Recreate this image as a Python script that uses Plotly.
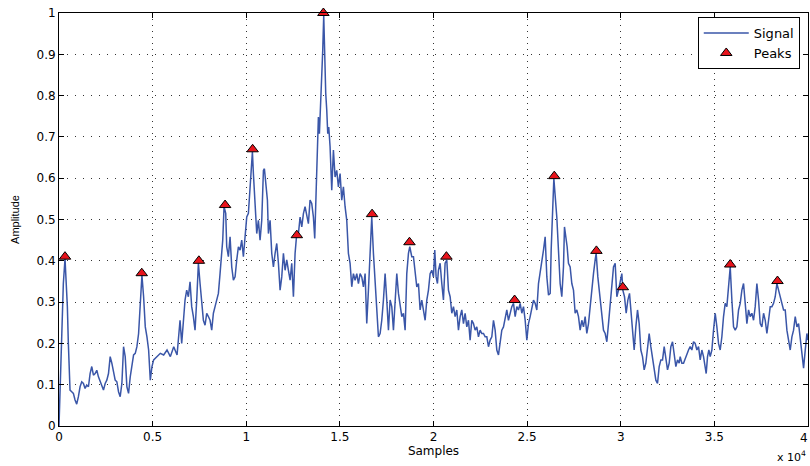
import plotly.graph_objects as go

# ---- signal trace (sample index, amplitude) ----
seg1_samples = [0, 54, 143, 232, 321, 375, 446, 500, 589, 679,
                768, 857, 946, 1036, 1125, 1214, 1304, 1393, 1482, 1572,
                1661, 1750, 1840, 1929, 2018, 2107, 2197, 2286, 2375, 2465,
                2554, 2643, 2733, 2822, 2911, 3000, 3090, 3179, 3268, 3358,
                3447, 3536, 3626, 3715, 3804, 3893, 3983, 4072, 4161, 4251,
                4340, 4429, 4518, 4608, 4697, 4786, 4876, 4965, 5054, 5233,
                5412, 5590, 5769, 5947, 6126, 6305]
seg1_values = [0.0, 0.095, 0.20, 0.345, 0.405, 0.36, 0.29, 0.20, 0.087, 0.083,
               0.079, 0.063, 0.053, 0.071, 0.095, 0.107, 0.103, 0.091, 0.099, 0.095,
               0.127, 0.144, 0.123, 0.127, 0.135, 0.119, 0.107, 0.095, 0.087, 0.103,
               0.111, 0.127, 0.168, 0.152, 0.127, 0.111, 0.107, 0.083, 0.071, 0.103,
               0.192, 0.168, 0.095, 0.079, 0.119, 0.152, 0.172, 0.176, 0.192, 0.224,
               0.289, 0.365, 0.313, 0.240, 0.216, 0.184, 0.111, 0.144, 0.160, 0.168,
               0.176, 0.172, 0.184, 0.168, 0.192, 0.172]

seg2_samples = [6464, 6553, 6642, 6731, 6820, 6909, 6998, 7087, 7176, 7265,
                7355, 7444, 7533, 7622, 7711, 7800, 7889, 7978, 8067, 8156,
                8245, 8334, 8423, 8512, 8601, 8690, 8744, 8815, 8904, 8957,
                9046, 9136, 9225, 9314, 9403, 9492, 9581, 9670, 9759, 9848,
                9937, 10026, 10115, 10204, 10257, 10329, 10382, 10471, 10560, 10649,
                10738, 10827, 10917, 10970, 11059, 11130, 11184, 11273, 11362, 11451,
                11540, 11629, 11718, 11807, 11896, 11985, 12074, 12163, 12252, 12341,
                12430, 12519, 12608, 12698, 12787, 12876, 12965, 13054]
seg2_values = [0.256, 0.20, 0.256, 0.305, 0.329, 0.313, 0.349, 0.289, 0.265, 0.232,
               0.305, 0.394, 0.345, 0.297, 0.256, 0.244, 0.273, 0.265, 0.256, 0.232,
               0.273, 0.289, 0.305, 0.321, 0.369, 0.426, 0.45, 0.531, 0.515, 0.434,
               0.41, 0.458, 0.385, 0.353, 0.361, 0.402, 0.434, 0.426, 0.45, 0.41,
               0.45, 0.506, 0.515, 0.579, 0.635, 0.664, 0.611, 0.531, 0.466, 0.498,
               0.45, 0.498, 0.619, 0.623, 0.579, 0.547, 0.466, 0.498, 0.418, 0.385,
               0.418, 0.442, 0.394, 0.329, 0.361, 0.418, 0.377, 0.402, 0.377, 0.353,
               0.394, 0.313, 0.418, 0.466, 0.466, 0.506, 0.482, 0.515]

seg3_samples = [13141, 13230, 13319, 13408, 13497, 13586, 13657, 13729, 13800, 13853,
                13907, 13978, 14032, 14085, 14138, 14192, 14245, 14299, 14352, 14406,
                14477, 14566, 14655, 14744, 14833, 14922, 15011, 15100, 15189, 15278,
                15367, 15456, 15545, 15634, 15723, 15813, 15902, 15991, 16080, 16169,
                16258, 16347, 16436, 16525, 16614, 16703, 16792, 16881, 16970, 17059,
                17148, 17237, 17326, 17415, 17504, 17594, 17683, 17772, 17861, 17950,
                18039, 18128, 18217, 18306, 18395, 18484, 18573, 18662, 18733, 18840,
                18929, 19018, 19107, 19196, 19285, 19374, 19463, 19553, 19642, 19731]
seg3_values = [0.531, 0.506, 0.49, 0.547, 0.539, 0.506, 0.454, 0.563, 0.668, 0.748,
               0.708, 0.789, 0.821, 0.91, 0.994, 0.885, 0.805, 0.765, 0.708, 0.724,
               0.676, 0.571, 0.668, 0.603, 0.619, 0.579, 0.611, 0.547, 0.579, 0.531,
               0.498, 0.418, 0.394, 0.337, 0.369, 0.353, 0.369, 0.345, 0.369, 0.361,
               0.337, 0.369, 0.248, 0.329, 0.418, 0.506, 0.418, 0.345, 0.273, 0.216,
               0.224, 0.256, 0.305, 0.369, 0.305, 0.232, 0.305, 0.289, 0.232, 0.305,
               0.369, 0.321, 0.289, 0.265, 0.273, 0.232, 0.369, 0.418, 0.434, 0.41,
               0.41, 0.377, 0.337, 0.345, 0.281, 0.305, 0.281, 0.256, 0.305, 0.329]

seg4_samples = [19819, 19908, 19997, 20068, 20140, 20211, 20264, 20353, 20442, 20531,
                20620, 20710, 20799, 20888, 20977, 21066, 21155, 21244, 21333, 21422,
                21511, 21600, 21689, 21778, 21867, 21956, 22045, 22134, 22223, 22312,
                22401, 22491, 22580, 22669, 22758, 22847, 22936, 23025, 23114, 23203,
                23292, 23381, 23470, 23559, 23648, 23737, 23826, 23915, 24004, 24093,
                24182, 24272, 24361, 24450, 24539, 24628, 24717, 24806, 24895, 24984,
                25073, 25162, 25251, 25340, 25429, 25518, 25607, 25696, 25785, 25874,
                25963, 26053, 26142, 26231, 26284, 26355, 26427]
seg4_values = [0.369, 0.377, 0.361, 0.426, 0.361, 0.345, 0.377, 0.394, 0.345, 0.305,
               0.394, 0.402, 0.329, 0.313, 0.273, 0.289, 0.265, 0.281, 0.232, 0.265,
               0.281, 0.248, 0.273, 0.24, 0.256, 0.208, 0.256, 0.248, 0.232, 0.24,
               0.216, 0.232, 0.224, 0.224, 0.216, 0.216, 0.192, 0.208, 0.216, 0.256,
               0.232, 0.184, 0.172, 0.2, 0.232, 0.24, 0.265, 0.281, 0.256, 0.273,
               0.289, 0.297, 0.265, 0.289, 0.281, 0.297, 0.273, 0.289, 0.256, 0.208,
               0.248, 0.265, 0.289, 0.305, 0.297, 0.281, 0.345, 0.369, 0.402, 0.426,
               0.458, 0.361, 0.317, 0.321, 0.426, 0.531, 0.599]

seg5_samples = [26585, 26674, 26763, 26852, 26941, 26995, 27066, 27137, 27208, 27297,
                27387, 27476, 27565, 27654, 27743, 27832, 27921, 28010, 28099, 28188,
                28277, 28366, 28455, 28544, 28633, 28687, 28776, 28847, 28918, 28989,
                29078, 29168, 29257, 29346, 29435, 29524, 29613, 29702, 29791, 29880,
                29969, 30058, 30112, 30200, 30290, 30379, 30468, 30557, 30646, 30717,
                30806, 30895, 30984, 31073, 31162, 31251, 31340, 31429, 31518, 31607,
                31697, 31786, 31875, 31964, 32053, 32142, 32231, 32320, 32409, 32498,
                32587, 32676, 32765, 32854, 32943, 33032, 33121]
seg5_values = [0.506, 0.426, 0.345, 0.313, 0.385, 0.482, 0.458, 0.434, 0.394, 0.385,
               0.345, 0.329, 0.273, 0.281, 0.265, 0.232, 0.256, 0.24, 0.265, 0.224,
               0.248, 0.289, 0.345, 0.369, 0.402, 0.418, 0.361, 0.329, 0.289, 0.265,
               0.232, 0.224, 0.204, 0.248, 0.289, 0.345, 0.385, 0.394, 0.313, 0.329,
               0.353, 0.369, 0.329, 0.313, 0.273, 0.305, 0.321, 0.265, 0.208, 0.184,
               0.24, 0.281, 0.248, 0.184, 0.168, 0.136, 0.152, 0.184, 0.224, 0.192,
               0.168, 0.136, 0.111, 0.103, 0.144, 0.16, 0.16, 0.192, 0.168, 0.136,
               0.152, 0.192, 0.204, 0.168, 0.144, 0.16, 0.152]

seg6_samples = [33174, 33263, 33352, 33441, 33530, 33619, 33708, 33797, 33886, 33975,
                34065, 34154, 34243, 34332, 34421, 34510, 34563, 34634, 34706, 34777,
                34866, 34955, 35044, 35133, 35222, 35311, 35400, 35489, 35578, 35667,
                35756, 35846, 35935, 36024, 36113, 36202, 36291, 36380, 36469, 36558,
                36647, 36736, 36825, 36914, 37003, 37092, 37181, 37270, 37359, 37448,
                37537, 37627, 37716, 37805, 37894, 37983, 38072, 38161, 38250, 38339,
                38428, 38517, 38606, 38695, 38784, 38873, 38962, 39051, 39140, 39229,
                39318, 39408, 39497, 39586, 39675, 39764, 39853, 39942, 39999]
seg6_values = [0.168, 0.152, 0.152, 0.164, 0.176, 0.184, 0.192, 0.184, 0.204, 0.2,
               0.184, 0.192, 0.16, 0.184, 0.168, 0.148, 0.127, 0.168, 0.184, 0.168,
               0.184, 0.232, 0.273, 0.24, 0.2, 0.184, 0.216, 0.265, 0.297, 0.289,
               0.329, 0.385, 0.305, 0.24, 0.232, 0.24, 0.281, 0.297, 0.329, 0.345,
               0.297, 0.248, 0.281, 0.265, 0.273, 0.256, 0.289, 0.345, 0.305, 0.248,
               0.24, 0.273, 0.256, 0.224, 0.256, 0.289, 0.289, 0.297, 0.313, 0.345,
               0.329, 0.313, 0.297, 0.281, 0.281, 0.232, 0.208, 0.184, 0.216, 0.232,
               0.265, 0.24, 0.248, 0.208, 0.168, 0.14, 0.184, 0.224, 0.208]

signal_samples = seg1_samples + seg2_samples + seg3_samples + seg4_samples + seg5_samples + seg6_samples
signal_values = seg1_values + seg2_values + seg3_values + seg4_values + seg5_values + seg6_values
assert len(signal_samples) == len(signal_values)

peak_samples = [320, 4420, 7470, 8870, 10340, 12700, 14120, 16720, 18716,
                20690, 24330, 26450, 28700, 30110, 35846, 38370]
peak_values = [0.41, 0.37, 0.40, 0.535, 0.67, 0.462, 1.0, 0.513, 0.445,
               0.41, 0.305, 0.605, 0.424, 0.336, 0.391, 0.351]

x_tick_vals = [0, 5000, 10000, 15000, 20000, 25000, 30000, 35000, 40000]
x_tick_text = ["0", "0.5", "1", "1.5", "2", "2.5", "3", "3.5", "4"]
y_tick_vals = [0, 0.1, 0.2, 0.3, 0.4, 0.5, 0.6, 0.7, 0.8, 0.9, 1.0]
y_tick_text = ["0", "0.1", "0.2", "0.3", "0.4", "0.5", "0.6", "0.7", "0.8", "0.9", "1"]

TICK_FONT = dict(family="DejaVu Sans", size=12, color="black")

fig = go.Figure()
fig.add_trace(go.Scatter(
    x=signal_samples, y=signal_values, mode="lines", name="Signal",
    line=dict(color="#3a56a8", width=1.5),
))
fig.add_trace(go.Scatter(
    x=peak_samples, y=peak_values, mode="markers", name="Peaks",
    marker=dict(symbol="triangle-up", size=10, color="#e8141c",
                line=dict(color="black", width=1)),
    cliponaxis=False,
))

axis_common = dict(
    showline=True, linecolor="black", linewidth=1, mirror="ticks",
    ticks="inside", ticklen=5, tickcolor="black", tickwidth=1,
    showgrid=True, gridcolor="#333333", gridwidth=1,
    zeroline=False, tickfont=TICK_FONT, automargin=False,
)

# the last x tick label sits on the right edge of the page; draw it as an
# annotation nudged slightly inward so it is not cut off
x_tick_text_axis = x_tick_text[:-1] + [""]

fig.update_layout(
    width=810, height=466,
    margin=dict(l=59, r=2, t=13, b=40, autoexpand=False),
    paper_bgcolor="white", plot_bgcolor="white",
    xaxis=dict(range=[0, 40000], tickvals=x_tick_vals, ticktext=x_tick_text_axis,
               griddash="1px,5px",
               title=dict(text="Samples", standoff=2,
                          font=dict(family="DejaVu Sans", size=12, color="black")),
               **axis_common),
    yaxis=dict(range=[0, 1], tickvals=y_tick_vals, ticktext=y_tick_text,
               griddash="1px,7px",
               title=dict(text="Amplitude", standoff=14,
                          font=dict(family="Liberation Sans", size=11, color="black")),
               **axis_common),
    legend=dict(x=0.989, xanchor="right", y=0.99, yanchor="top",
                bgcolor="white", bordercolor="black", borderwidth=1,
                font=dict(family="DejaVu Sans", size=13, color="black"),
                itemwidth=45, tracegroupgap=0),
    showlegend=True,
    annotations=[
        dict(text=x_tick_text[-1], xref="x", yref="paper",
             x=x_tick_vals[-1], y=-0.008, xanchor="center", yanchor="top",
             xshift=-4, showarrow=False, font=TICK_FONT),
        dict(text="x 10<sup>4</sup>", xref="paper", yref="paper",
             x=1.0, y=-0.073, xanchor="right", yanchor="middle",
             showarrow=False,
             font=dict(family="DejaVu Sans", size=11, color="black")),
    ],
)

fig.write_html("out.html")
